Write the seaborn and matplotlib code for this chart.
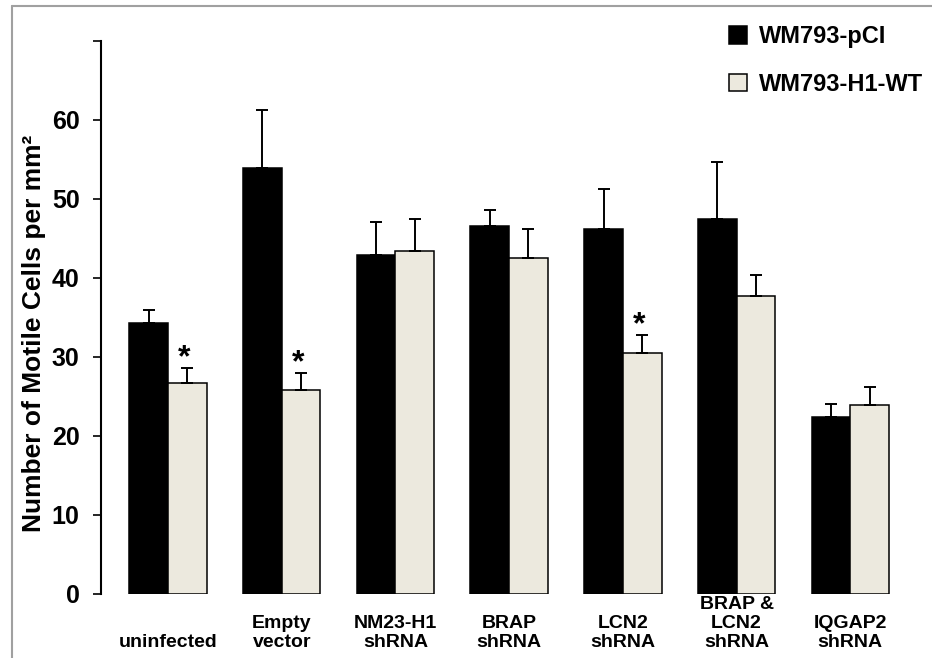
import matplotlib
matplotlib.use('Agg')
import matplotlib.pyplot as plt
from matplotlib.lines import Line2D
import numpy as np
import pandas as pd
import seaborn as sns

groups = ['uninfected', 'Empty\nvector', 'NM23-H1\nshRNA', 'BRAP\nshRNA',
          'LCN2\nshRNA', 'BRAP &\nLCN2\nshRNA', 'IQGAP2\nshRNA']
series = ['WM793-pCI', 'WM793-H1-WT']
pci_mean = [34.2, 53.8, 42.8, 46.5, 46.2, 47.4, 22.4]
pci_err = [1.7, 7.4, 4.2, 2.0, 5.0, 7.2, 1.6]
wt_mean = [26.7, 25.8, 43.4, 42.5, 30.5, 37.6, 23.9]
wt_err = [1.9, 2.1, 4.0, 3.6, 2.2, 2.7, 2.2]
significant = [True, True, False, False, True, False, False]
yticks = [0, 10, 20, 30, 40, 50, 60, 70]

df = pd.DataFrame({
    'group': groups * 2,
    'series': [series[0]] * len(groups) + [series[1]] * len(groups),
    'mean': pci_mean + wt_mean,
    'err': pci_err + wt_err,
})

sns.set_style('ticks')
plt.rcParams['font.family'] = ['Liberation Sans', 'DejaVu Sans']
plt.rcParams['font.weight'] = 'bold'
plt.rcParams['text.color'] = 'black'
plt.rcParams['axes.labelcolor'] = 'black'
plt.rcParams['ytick.color'] = 'black'
plt.rcParams['ytick.labelcolor'] = 'black'

fig = plt.figure(figsize=(9.32, 6.58), dpi=100)
ax = fig.add_axes([100.5/932, (658-593.5)/658, 818/932, 553/658])

sns.barplot(data=df, x='group', y='mean', hue='series', order=groups, hue_order=series,
            palette=['black', '#ece9de'], saturation=1, width=0.68, gap=0,
            errorbar=None, edgecolor='black', linewidth=1.1, ax=ax)

# upper error bars only
for cont, errs in zip(ax.containers, [pci_err, wt_err]):
    xs = [b.get_x() + b.get_width()/2 for b in cont]
    tops = [b.get_height() for b in cont]
    ax.errorbar(xs, tops, yerr=[np.zeros(len(errs)), errs], fmt='none', ecolor='black',
                elinewidth=1.4, capsize=4, capthick=1.4, zorder=1)

# significance stars over the H1-WT bars
for b, e, sig in zip(ax.containers[1], wt_err, significant):
    if sig:
        ax.text(b.get_x() + b.get_width()/2 - 0.03, b.get_height() + e + 0.2, '*',
                ha='center', va='baseline', fontsize=23, fontweight='bold')

ax.set_xlim(-0.594, 6.6)
ax.set_ylim(0, 70)
ax.set_yticks(yticks)
ax.set_yticklabels([str(t) if t < 70 else '' for t in yticks], fontsize=18, fontweight='bold')
ax.tick_params(axis='y', length=6, width=1.2, pad=9, color='black')
ax.tick_params(axis='x', length=0, labelbottom=False)
ax.set_xlabel('')
for s in ['top', 'right', 'bottom']:
    ax.spines[s].set_visible(False)
ax.spines['left'].set_linewidth(1.5)
ax.spines['left'].set_color('black')

ax.set_ylabel('Number of Motile Cells per mm²', fontsize=19, fontweight='bold', va='center')
ax.yaxis.set_label_coords((34-100.5)/818, 0.471)

for i, g in enumerate(groups):
    ax.text(i, -0.104, g, transform=ax.get_xaxis_transform(), ha='center', va='bottom',
            multialignment='center', fontsize=14, fontweight='bold', linespacing=1.15)

ax.legend(loc='upper left', bbox_to_anchor=(729/932, 1-25/658), bbox_transform=fig.transFigure,
          frameon=False, prop={'size': 17, 'weight': 'bold'}, handlelength=0.78,
          handleheight=0.78, handletextpad=0.5, labelspacing=1.05, borderpad=0,
          borderaxespad=0)

# grey frame around the figure (top and left edges visible)
fig.add_artist(Line2D([12/932, 12/932], [0, 1-6/658], transform=fig.transFigure,
                      color='#a0a0a0', lw=1.5))
fig.add_artist(Line2D([12/932, 1], [1-6/658, 1-6/658], transform=fig.transFigure,
                      color='#a0a0a0', lw=1.5))

fig.savefig('out.png', dpi=100)
